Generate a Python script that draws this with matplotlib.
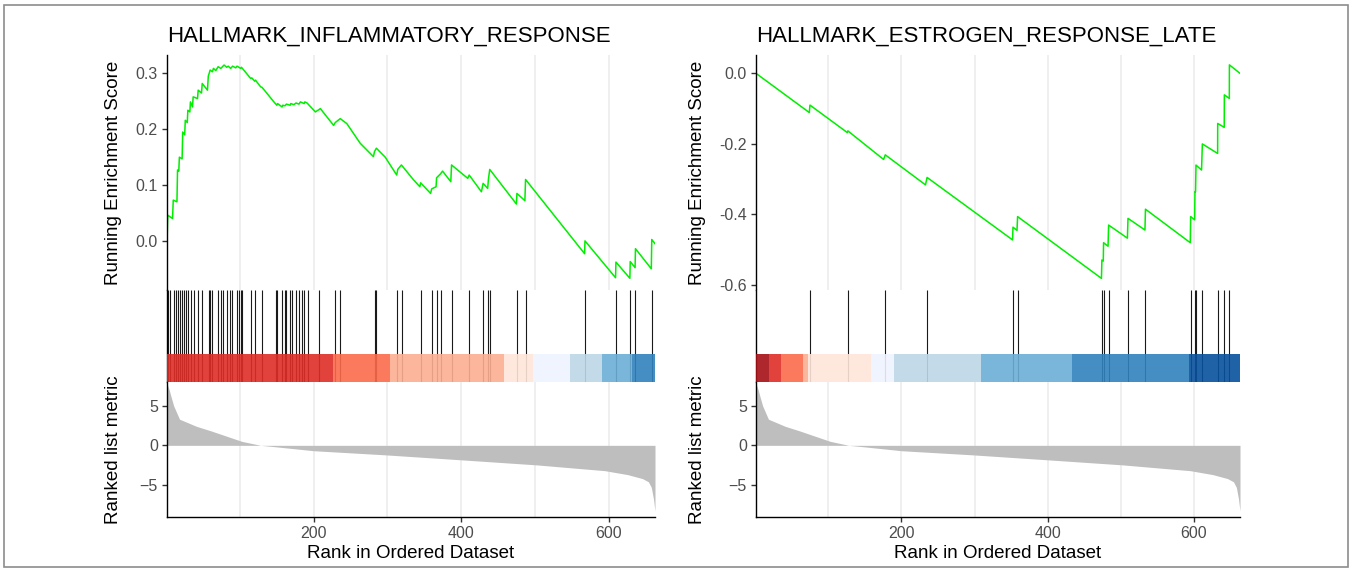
import matplotlib
matplotlib.use("Agg")
import matplotlib.pyplot as plt
from matplotlib.patches import Rectangle

plt.rcParams['font.family'] = ['Liberation Sans', 'DejaVu Sans']

N = 663

# ranked list metric (same ranking for both gene sets)
metric_rank = [1, 4, 6, 10, 18, 41, 61.5, 82, 102.6, 123, 128, 145, 200, 297, 400, 502.6, 595, 626, 646, 654, 658, 661, 663]
metric_val = [7.8, 7.0, 6.3, 5.0, 3.3, 2.4, 1.8, 1.15, 0.5, 0.1, 0.0, -0.15, -0.68, -1.2, -1.83, -2.47, -3.2, -3.7, -4.2, -4.6, -5.3, -6.8, -8.3]

# HALLMARK_INFLAMMATORY_RESPONSE
title1 = "HALLMARK_INFLAMMATORY_RESPONSE"
es1_rank = [1, 2, 8.5, 9.5, 14.5, 15.3, 17, 17.8, 21.5, 22.3, 25, 25.8, 28.5, 29.3, 32, 32.8, 35.6, 36.5,
            42.4, 43.3, 47.8, 48.8, 55.9, 57, 58.2, 59.5, 62.7, 64, 67.2, 70.3, 74, 78.4, 82, 84, 87.4, 90,
            94.2, 96, 101, 102, 114.5, 116, 120, 121, 128, 130, 146, 150, 151, 157, 158, 161, 163, 168, 169,
            173, 176, 180, 182, 187, 188, 191, 202.3, 207, 209, 227, 229.3, 236, 245, 263, 281, 282.5, 285,
            297, 312.6, 314, 319, 335, 344, 345.1, 358.6, 360, 366, 366.7, 372, 374.8, 386, 387, 409, 410.9,
            427.5, 429.8, 436, 437, 438.8, 475, 475.7, 486.5, 487.4, 567.5, 568, 609.5, 610, 628.9, 629.4,
            636, 636.5, 658, 658.6, 663]
es1_val = [-0.005, 0.046, 0.040, 0.073, 0.070, 0.127, 0.125, 0.150, 0.147, 0.195, 0.190, 0.216, 0.212, 0.234,
           0.231, 0.249, 0.240, 0.258, 0.255, 0.270, 0.265, 0.282, 0.270, 0.295, 0.300, 0.306, 0.303, 0.309,
           0.305, 0.312, 0.309, 0.315, 0.311, 0.313, 0.309, 0.313, 0.310, 0.313, 0.309, 0.311, 0.291, 0.292,
           0.286, 0.288, 0.276, 0.275, 0.249, 0.243, 0.246, 0.240, 0.243, 0.242, 0.245, 0.243, 0.246, 0.244,
           0.247, 0.245, 0.249, 0.246, 0.249, 0.247, 0.231, 0.235, 0.237, 0.207, 0.212, 0.219, 0.210, 0.175,
           0.151, 0.160, 0.166, 0.150, 0.118, 0.128, 0.136, 0.110, 0.097, 0.104, 0.085, 0.093, 0.097, 0.113,
           0.120, 0.125, 0.106, 0.136, 0.112, 0.118, 0.088, 0.103, 0.094, 0.110, 0.128, 0.066, 0.085, 0.072,
           0.110, -0.023, 0.000, -0.066, -0.038, -0.067, -0.037, -0.048, -0.014, -0.050, 0.0025, -0.005]
hits1 = [3, 5.4, 10, 13.1, 16.3, 18.9, 21.2, 23.5, 26.6, 29.8, 33.4, 37.9, 43.3, 49.1, 58.1, 59.5, 62.7,
         70.3, 73.9, 77.5, 82, 86.5, 89.7, 95.5, 98.7, 101, 102.3, 115.4, 120.3, 130.2, 148.2, 150.5, 157.2,
         160.4, 163.1, 168.5, 170.8, 176.6, 179.8, 184.3, 187.4, 192.4, 206.8, 229.3, 236.1, 282.5, 284.3,
         313.6, 319.4, 345.1, 360, 366.7, 372.1, 387, 410.9, 429.8, 436.5, 438.8, 475.7, 487.4, 568, 610,
         629.4, 636.1, 658.6]
bar1_edges = [1, 226, 304, 458, 498, 548, 591, 632, 663]
bar1_cols = ['#DE2D26', '#FB6A4A', '#FCAE91', '#FEE5D9', '#EFF3FF', '#BDD7E7', '#6BAED6', '#3182BD']
es1_ticks = [0.0, 0.1, 0.2, 0.3]

# HALLMARK_ESTROGEN_RESPONSE_LATE
title2 = "HALLMARK_ESTROGEN_RESPONSE_LATE"
es2_rank = [1, 73.9, 74.8, 126, 126.6, 175.5, 177.8, 232.8, 235, 351.9, 352.5, 358, 358.8, 473.5, 474.1,
            476, 476.4, 482.5, 483.3, 509, 509.8, 533, 533.7, 595, 595.5, 601, 601.4, 602.2, 602.8, 610.4,
            611.5, 632.4, 632.5, 641.4, 641.6, 648.4, 648.5, 663]
es2_val = [0.0, -0.111, -0.090, -0.168, -0.163, -0.244, -0.231, -0.316, -0.295, -0.472, -0.436, -0.445,
           -0.406, -0.581, -0.529, -0.532, -0.480, -0.490, -0.430, -0.467, -0.411, -0.444, -0.385, -0.480,
           -0.406, -0.415, -0.335, -0.336, -0.260, -0.274, -0.200, -0.227, -0.142, -0.153, -0.061, -0.071,
           0.024, 0.0]
hits2 = [74.9, 126.6, 177.9, 235.2, 351.9, 358.8, 474.1, 476.4, 483.3, 509.8, 533.7, 595.5, 601.4, 602.8,
         611.5, 632.5, 641.6, 648.5]
bar2_edges = [1, 18.5, 35, 65.7, 72.6, 158.2, 190.3, 308.4, 432.9, 593.2, 663]
bar2_cols = ['#A50F15', '#DE2D26', '#FB6A4A', '#FCAE91', '#FEE5D9', '#EFF3FF', '#BDD7E7', '#6BAED6',
             '#3182BD', '#08519C']
es2_ticks = [-0.6, -0.4, -0.2, 0.0]

W, H = 1353, 571
fig = plt.figure(figsize=(W / 100, H / 100), dpi=100)

tick_col = '#4D4D4D'
grid_col = '#EBEBEB'


def frac(x0, x1, y0, y1):
    return [x0 / W, 1 - y1 / H, (x1 - x0) / W, (y1 - y0) / H]


def gsea_panel(x0, x1, title, es_x, es_y, es_lim, es_ticks, hits, edges, cols, lab_x):
    ax1 = fig.add_axes(frac(x0, x1, 55, 290))
    ax2 = fig.add_axes(frac(x0, x1, 290, 382))
    ax3 = fig.add_axes(frac(x0, x1, 382, 517))

    # running enrichment score
    for g in range(100, 700, 100):
        ax1.axvline(g, color=grid_col, lw=1.1, zorder=0)
    ax1.plot(es_x, es_y, color='#00EE00', lw=1.1)
    ax1.set_xlim(1, N)
    ax1.set_ylim(*es_lim)
    ax1.set_yticks(es_ticks)
    ax1.set_yticklabels(['%.1f' % t for t in es_ticks])
    ax1.set_xticks([])
    for s in ['top', 'right', 'bottom']:
        ax1.spines[s].set_visible(False)
    ax1.set_ylabel('Running Enrichment Score', fontsize=13.5)
    ax1.yaxis.set_label_coords(lab_x, 0.5)
    ax1.set_title(title, loc='left', fontsize=16, pad=9.5)

    # hits and colour bar (bar drawn over the hit lines, slightly transparent)
    ax2.vlines(hits, 0, 1, color='#1A1A1A', lw=0.8, zorder=2)
    for i in range(len(cols)):
        ax2.add_patch(Rectangle((edges[i], 0), edges[i + 1] - edges[i], 0.3,
                                facecolor=cols[i], edgecolor='none', alpha=0.9, zorder=3))
    ax2.set_xlim(1, N)
    ax2.set_ylim(0, 1)
    ax2.set_xticks([])
    ax2.set_yticks([])
    for s in ['top', 'right', 'bottom']:
        ax2.spines[s].set_visible(False)

    # ranked list metric
    for g in range(100, 700, 100):
        ax3.axvline(g, color=grid_col, lw=1.1, zorder=0)
    ax3.fill_between(metric_rank, metric_val, 0, color='#BEBEBE', lw=0, zorder=2)
    ax3.set_xlim(1, N)
    ax3.set_ylim(-9.05, 8.0)
    ax3.set_xticks([200, 400, 600])
    ax3.set_yticks([-5, 0, 5])
    for s in ['top', 'right']:
        ax3.spines[s].set_visible(False)
    ax3.set_ylabel('Ranked list metric', fontsize=13.5)
    ax3.yaxis.set_label_coords(lab_x, 0.5)
    ax3.set_xlabel('Rank in Ordered Dataset', fontsize=13.5, labelpad=3)

    for ax in (ax1, ax2, ax3):
        for s in ax.spines.values():
            s.set_linewidth(1.0)
            s.set_color('black')
        ax.tick_params(labelsize=11.5, labelcolor=tick_col, color='#333333', length=3.5, width=1.0, pad=3)


gsea_panel(167, 655, title1, es1_rank, es1_val, (-0.088, 0.333), es1_ticks, hits1, bar1_edges, bar1_cols, -0.092)
gsea_panel(756, 1240, title2, es2_rank, es2_val, (-0.614, 0.052), es2_ticks, hits2, bar2_edges, bar2_cols, -0.103)

fig.patches.append(Rectangle((4 / W, 4 / H), (1348 - 4) / W, (567 - 5) / H, transform=fig.transFigure,
                             fill=False, edgecolor='#8C8C8C', lw=1.2))

fig.savefig('out.png', dpi=100)
